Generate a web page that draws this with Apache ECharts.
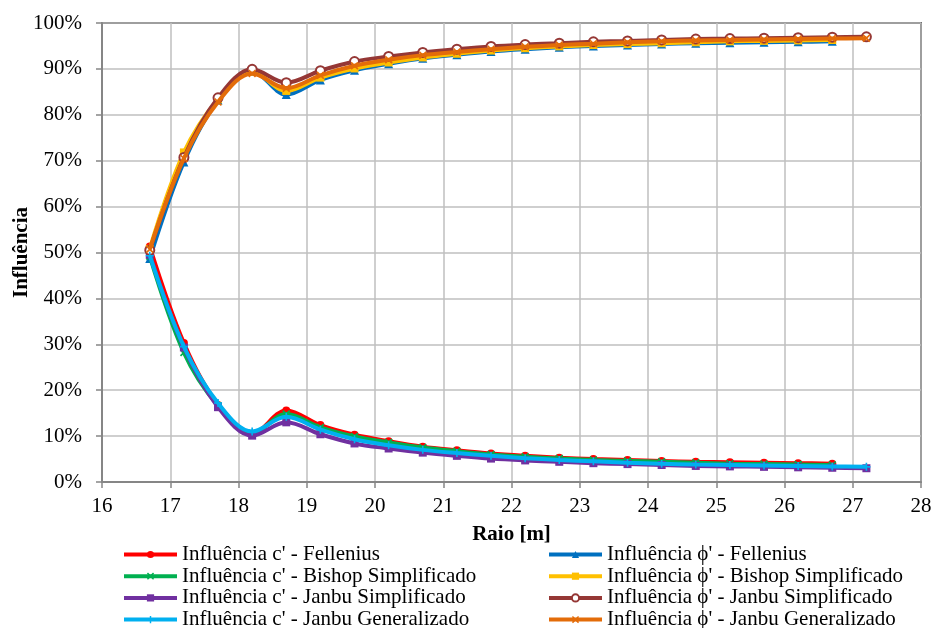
<!DOCTYPE html>
<html>
<head>
<meta charset="utf-8">
<script src="https://cdn.jsdelivr.net/npm/echarts@6/dist/echarts.min.js"></script>
<style>html,body{margin:0;padding:0;background:#fff}#c{width:936px;height:628px}</style>
</head>
<body>
<div id="c"></div>
<script>
const raio = [16.7,17.2,17.7,18.2,18.7,19.2,19.7,20.2,20.7,21.2,21.7,22.2,22.7,23.2,23.7,24.2,24.7,25.2,25.7,26.2,26.7,27.2];
const yTicks = [0,10,20,30,40,50,60,70,80,90,100];
const xTicks = [16,17,18,19,20,21,22,23,24,25,26,27,28];

const cFellenius   = [51.3,30.3,16.8,10.5,15.6,12.4,10.3,8.9,7.7,6.9,6.2,5.7,5.3,5.0,4.8,4.6,4.4,4.3,4.2,4.1,4.0];
const phiFellenius = [48.7,69.7,83.2,89.5,84.4,87.6,89.7,91.1,92.3,93.1,93.8,94.3,94.7,95.0,95.2,95.4,95.6,95.7,95.8,95.9,96.0];
const cBishop      = [49.2,28.2,16.6,10.6,14.8,11.9,9.9,8.6,7.5,6.7,6.0,5.5,5.1,4.8,4.6,4.4,4.2,4.0,3.9,3.8,3.7];
const phiBishop    = [50.8,71.8,83.4,89.4,85.2,88.1,90.1,91.4,92.5,93.3,94.0,94.5,94.9,95.2,95.4,95.6,95.8,96.0,96.1,96.2,96.3];
const cJanbuS      = [49.5,29.3,16.3,10.1,13.0,10.4,8.4,7.3,6.4,5.7,5.1,4.7,4.4,4.1,3.9,3.7,3.5,3.4,3.3,3.2,3.1,3.0];
const phiJanbuS    = [50.5,70.7,83.7,89.9,87.0,89.6,91.6,92.7,93.6,94.3,94.9,95.3,95.6,95.9,96.1,96.3,96.5,96.6,96.7,96.8,96.9,97.0];
const cJanbuG      = [49.3,29.5,17.2,11.0,14.2,11.4,9.3,8.0,7.0,6.3,5.7,5.2,4.8,4.5,4.2,4.0,3.8,3.7,3.6,3.5,3.4,3.3];
const phiJanbuG    = [50.7,70.5,82.8,89.0,85.8,88.6,90.7,92.0,93.0,93.7,94.3,94.8,95.2,95.5,95.8,96.0,96.2,96.3,96.4,96.5,96.6,96.7];

const names = [
  "Influência c' - Fellenius","Influência ϕ' - Fellenius",
  "Influência c' - Bishop Simplificado","Influência ϕ' - Bishop Simplificado",
  "Influência c' - Janbu Simplificado","Influência ϕ' - Janbu Simplificado",
  "Influência c' - Janbu Generalizado","Influência ϕ' - Janbu Generalizado"
];
const valueSets = [cFellenius,phiFellenius,cBishop,phiBishop,cJanbuS,phiJanbuS,cJanbuG,phiJanbuG];
const colors = ['#FF0000','#0070C0','#00B050','#FFC000','#7030A0','#953735','#00B0F0','#E36C09'];
const xPath = 'path://M0,1.5 L1.5,0 L5,3.5 L8.5,0 L10,1.5 L6.5,5 L10,8.5 L8.5,10 L5,6.5 L1.5,10 L0,8.5 L3.5,5 Z';
const plusPath = 'path://M4,0 L6,0 L6,4 L10,4 L10,6 L6,6 L6,10 L4,10 L4,6 L0,6 L0,4 L4,4 Z';
const symbols = ['circle','triangle',xPath,'rect','rect','emptyCircle',plusPath,xPath];
const sizes = [8,9,8,8,8,9,8,8];

const FONT = '"Liberation Serif","Times New Roman",serif';

const series = valueSets.map((vals,i)=>({
  name: names[i],
  type: 'line',
  smooth: 0.35,
  data: vals.map((v,k)=>[raio[k], v]),
  symbol: symbols[i],
  symbolSize: sizes[i],
  showSymbol: true,
  lineStyle: {color: colors[i], width: 4, type: 'solid'},
  itemStyle: symbols[i]==='emptyCircle' ? {color: colors[i], borderWidth: 2} : {color: colors[i]},
  z: 2 + i
}));

const legendCommon = {orient: 'vertical', top: 544, height: 92, padding: 0, itemWidth: 53, itemHeight: 9, itemGap: 0.7,
  lineStyle: {width: 4},
  textStyle: {fontFamily: FONT, fontSize: 21, lineHeight: 21, color: '#000'}};

const chart = echarts.init(document.getElementById('c'), null, {renderer:'canvas'});
chart.setOption({
  animation: false,
  backgroundColor: '#fff',
  grid: {left: 102, right: 15, top: 23, bottom: 146, show: true, borderColor: '#000', borderWidth: 1.5, containLabel: false, outerBoundsMode: 'none'},
  legend: [
    Object.assign({data: [names[0],names[2],names[4],names[6]], left: 122, width: 400}, legendCommon),
    Object.assign({data: [names[1],names[3],names[5],names[7]], left: 547, width: 380}, legendCommon)
  ],
  xAxis: {
    type: 'value', min: xTicks[0], max: xTicks[xTicks.length-1], interval: 1,
    name: 'Raio [m]', nameLocation: 'middle', nameGap: 42, nameMoveOverlap: false,
    nameTextStyle: {fontFamily: FONT, fontSize: 21, fontWeight: 'bold', color: '#000'},
    axisLine: {show: true, lineStyle: {color: '#868686', width: 2}},
    axisTick: {show: true, length: 6, inside: false, lineStyle: {color: '#868686', width: 1.5}},
    axisLabel: {fontFamily: FONT, fontSize: 21, color: '#000', margin: 14},
    splitLine: {show: true, lineStyle: {color: '#BFBFBF', width: 1.5}}
  },
  yAxis: {
    type: 'value', min: yTicks[0], max: yTicks[yTicks.length-1], interval: 10,
    name: 'Influência', nameLocation: 'middle', nameGap: 70, nameMoveOverlap: false,
    nameTextStyle: {fontFamily: FONT, fontSize: 21, fontWeight: 'bold', color: '#000'},
    axisLine: {show: true, lineStyle: {color: '#868686', width: 2}},
    axisTick: {show: true, length: 6, inside: false, lineStyle: {color: '#868686', width: 1.5}},
    axisLabel: {fontFamily: FONT, fontSize: 21, color: '#000', margin: 20, formatter: '{value}%'},
    splitLine: {show: true, lineStyle: {color: '#BFBFBF', width: 1.5}}
  },
  series: series
});
</script>
</body>
</html>
